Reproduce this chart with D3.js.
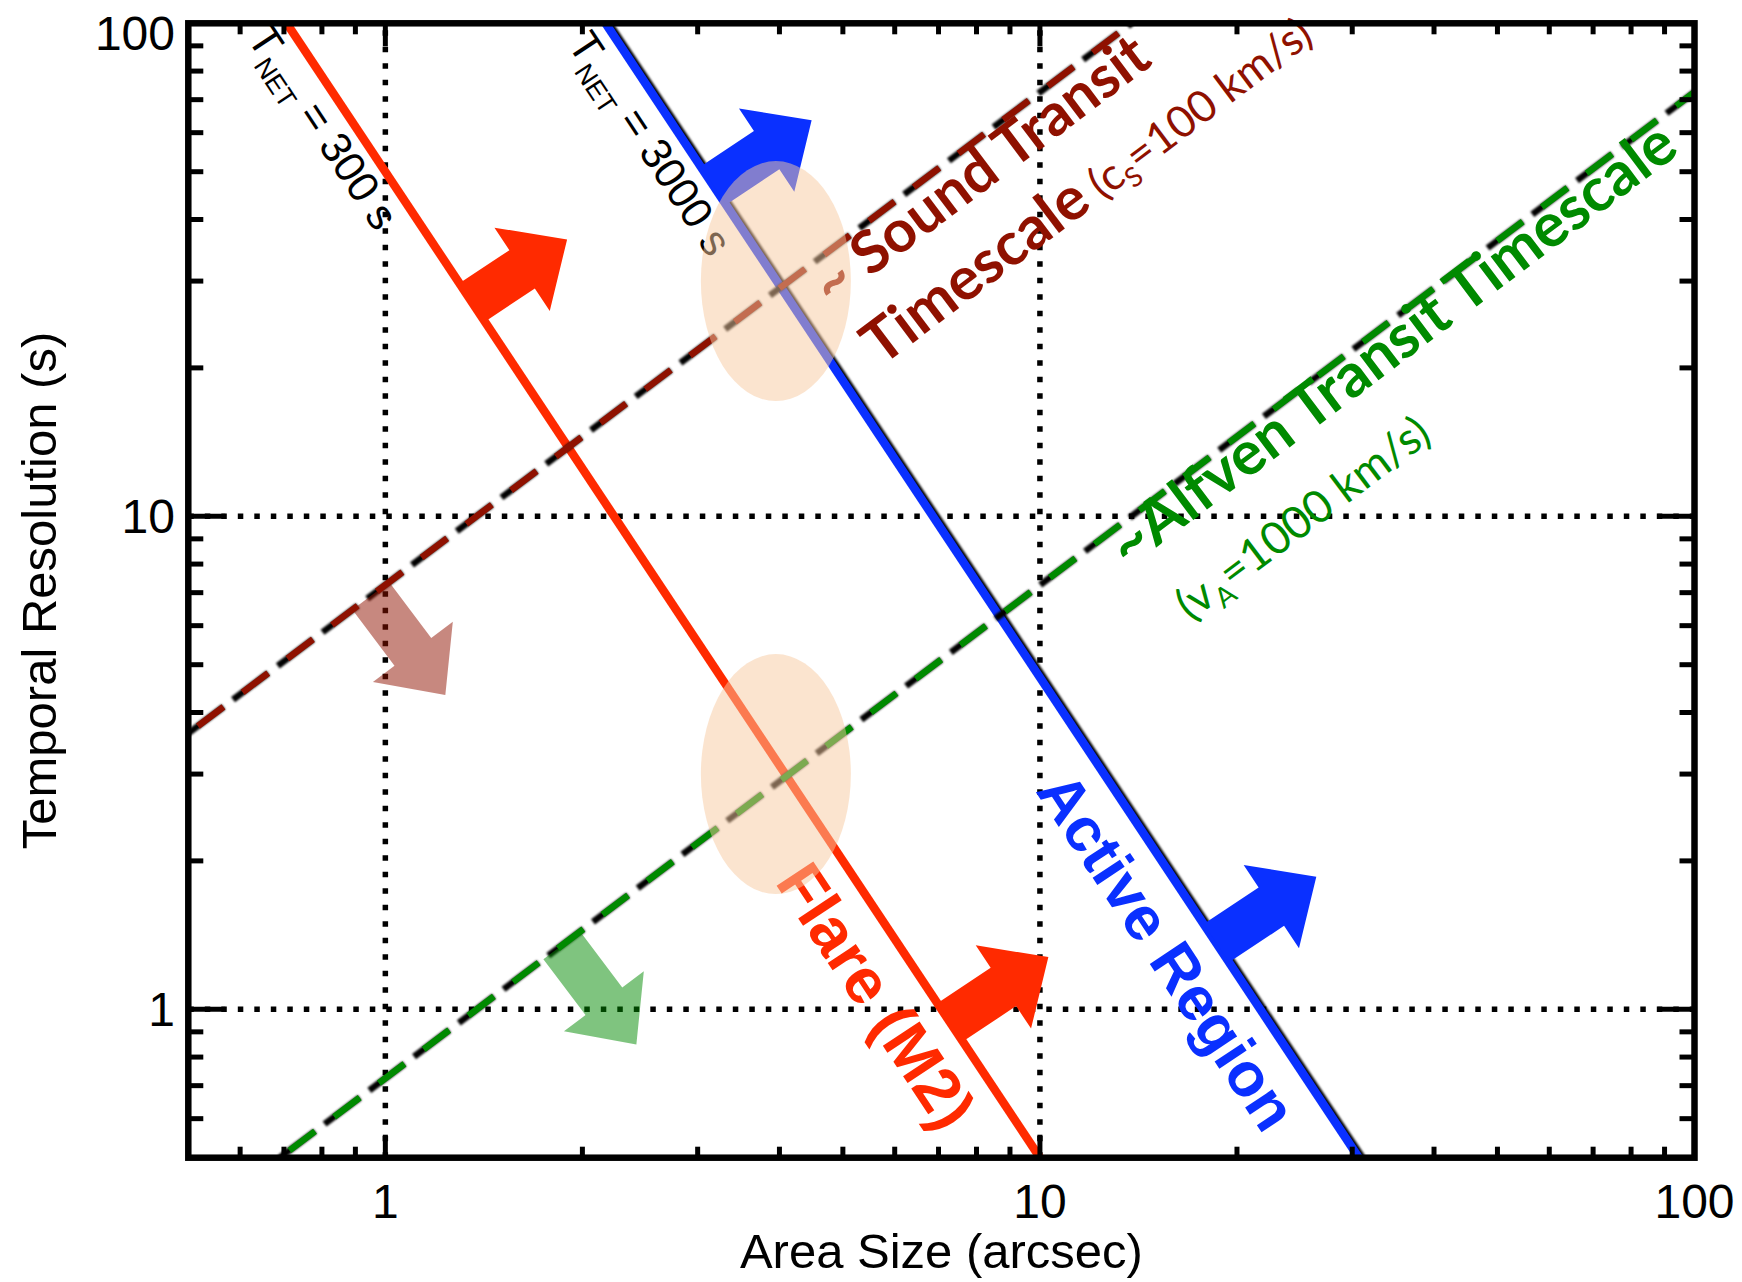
<!DOCTYPE html>
<html>
<head>
<meta charset="utf-8">
<script src="https://cdn.jsdelivr.net/npm/d3@7"></script>
<style>
  html, body { margin: 0; padding: 0; background: #fff; }
  svg { display: block; }
  text { white-space: pre; }
</style>
</head>
<body>
<svg id="chart" width="1742" height="1282"></svg>
<script>
// ---- data -------------------------------------------------------------
const areaDomain = [0.5, 100];          // arcsec
const timeDomain = [0.5, 100];          // seconds
const xTickValues = [1, 10, 100];
const xTickLabels = ["1", "10", "100"];
const yTickValues = [1, 10, 100];
const yTickLabels = ["1", "10", "100"];

// Constant total-counts lines (t ∝ A^-2), endpoints [area, time]
const flareLine = [[0.707, 100], [10, 0.5]];          // T_NET = 300 s
const activeRegionLine = [[2.17, 100], [30.7, 0.5]];  // T_NET = 3000 s
// Transit timescales (t ∝ A), endpoints [area, time]
const soundLine = [[0.5, 3.63], [13.8, 100]];         // c_s = 100 km/s
const alfvenLine = [[0.69, 0.5], [100, 72.5]];        // v_A = 1000 km/s

// Highlighted intersections [area, time]
const overlapCenters = [[3.95, 30], [3.95, 3]];

// ---- colours ----------------------------------------------------------
const RED = "#ff2a00", BLUE = "#0a30ff", DARKRED = "#8f1100", GREEN = "#008a00";

// ---- scales -----------------------------------------------------------
const plotL = 188.3, plotR = 1694.5, plotT = 23.3, plotB = 1157.7;
const x = d3.scaleLog().domain(areaDomain).range([plotL, plotR]);
const y = d3.scaleLog().domain(timeDomain).range([plotB, plotT]);

const svg = d3.select("#chart");
const defs = svg.append("defs");
defs.append("clipPath").attr("id", "plot-clip")
  .append("rect").attr("x", plotL).attr("y", plotT)
  .attr("width", plotR - plotL).attr("height", plotB - plotT);
defs.append("filter").attr("id", "soft").attr("x", "-5%").attr("y", "-5%")
  .attr("width", "110%").attr("height", "110%")
  .append("feGaussianBlur").attr("stdDeviation", 0.9);

const plot = svg.append("g").attr("clip-path", "url(#plot-clip)");

// ---- helpers ----------------------------------------------------------
const lineGen = d3.line().x(d => x(d[0])).y(d => y(d[1]));

function pointOn(line, A) {
  const [a0, t0] = line[0], [a1, t1] = line[1];
  const f = (Math.log(A) - Math.log(a0)) / (Math.log(a1) - Math.log(a0));
  const t = Math.exp(Math.log(t0) + f * (Math.log(t1) - Math.log(t0)));
  return [x(A), y(t)];
}
function screenAngle(line) {
  const p0 = [x(line[0][0]), y(line[0][1])];
  const p1 = [x(line[1][0]), y(line[1][1])];
  return Math.atan2(p1[1] - p0[1], p1[0] - p0[0]) * 180 / Math.PI;
}

// ---- dotted grid at decades -------------------------------------------
const gridG = plot.append("g")
  .attr("stroke", "#000").attr("stroke-width", 5.5)
  .attr("stroke-dasharray", "5.5 11").attr("fill", "none");
[1, 10].forEach(v => {
  gridG.append("line").attr("x1", x(v)).attr("x2", x(v))
    .attr("y1", plotB).attr("y2", plotT);
  gridG.append("line").attr("y1", y(v)).attr("y2", y(v))
    .attr("x1", plotL).attr("x2", plotR);
});

// ---- constant-count lines ---------------------------------------------
plot.append("path").datum(activeRegionLine)
  .attr("d", lineGen).attr("transform", "translate(2.6,0)")
  .attr("stroke", "#000").attr("stroke-width", 8.5).attr("fill", "none")
  .attr("filter", "url(#soft)");
plot.append("path").datum(activeRegionLine)
  .attr("d", lineGen).attr("stroke", BLUE).attr("stroke-width", 8.5).attr("fill", "none");
plot.append("path").datum(flareLine)
  .attr("d", lineGen).attr("stroke", RED).attr("stroke-width", 8.5).attr("fill", "none");

// ---- transit timescale dashed lines -----------------------------------
[[soundLine, DARKRED], [alfvenLine, GREEN]].forEach(([ln, col]) => {
  plot.append("path").datum(ln).attr("d", lineGen)
    .attr("stroke", "#000").attr("stroke-width", 6.5).attr("fill", "none")
    .attr("stroke-dasharray", "44 12").attr("filter", "url(#soft)");
  plot.append("path").datum(ln).attr("d", lineGen)
    .attr("stroke", col).attr("stroke-width", 6.5).attr("fill", "none")
    .attr("stroke-dasharray", "32 24").attr("stroke-dashoffset", 44);
});

// ---- block arrows pointing to the accessible side ---------------------
const arrows = [
  { line: flareLine, at: 1.357, side: -1, color: RED, opacity: 1, len: 114 },
  { line: flareLine, at: 7.29, side: -1, color: RED, opacity: 1, len: 118 },
  { line: activeRegionLine, at: 3.17, side: -1, color: BLUE, opacity: 1, len: 118 },
  { line: activeRegionLine, at: 18.6, side: -1, color: BLUE, opacity: 1, len: 120 },
  { line: soundLine, at: 0.95, side: 1, color: DARKRED, opacity: 0.5, len: 124 },
  { line: alfvenLine, at: 1.86, side: 1, color: GREEN, opacity: 0.5, len: 124 }
];
const shaftW = 46, headW = 100, headL = 54;
arrows.forEach(a => {
  const [px, py] = pointOn(a.line, a.at);
  const ang = screenAngle(a.line) + a.side * 90;
  const L = a.len, s = shaftW / 2, h = headW / 2;
  const pts = [[0, -s], [L - headL, -s], [L - headL, -h], [L, 0],
               [L - headL, h], [L - headL, s], [0, s]];
  plot.append("polygon")
    .attr("points", pts.map(p => p.join(",")).join(" "))
    .attr("transform", `translate(${px},${py}) rotate(${ang})`)
    .attr("fill", a.color).attr("fill-opacity", a.opacity);
});

// ---- in-plot labels (allowed to run past the frame) -------------------
const SANS = "'Liberation Sans', Arial, Helvetica, sans-serif";
const HUMAN = "Lato, 'Open Sans', sans-serif";
const labels = [
  { line: flareLine, at: 0.7071, along: -10, off: 42, font: SANS, size: 43, weight: 400, color: "#000",
    parts: [{ t: "T" }, { t: "NET", sub: true }, { t: " = 300 s" }] },
  { line: activeRegionLine, at: 2.17, along: -4, off: 44, font: SANS, size: 43, weight: 400, color: "#000",
    parts: [{ t: "T" }, { t: "NET", sub: true }, { t: " = 3000 s" }] },
  { line: flareLine, at: 4.845, along: -4, off: 69, font: SANS, size: 64, weight: 700, color: RED,
    parts: [{ t: "Flare (M2)" }] },
  { line: activeRegionLine, at: 12.53, along: -24, off: 67, font: SANS, size: 62, weight: 700, color: BLUE,
    parts: [{ t: "Active Region" }] },
  { line: soundLine, at: 4.45, along: -8, off: 46, font: HUMAN, size: 59, weight: 700, color: DARKRED,
    parts: [{ t: "~ Sound Transit" }] },
  { line: soundLine, at: 4.45, along: -4, off: 124, font: HUMAN, size: 60, weight: 700, color: DARKRED,
    parts: [{ t: "Timescale" }, { t: " (c", size: 44, weight: 400 }, { t: "S", size: 44, weight: 400, sub: true },
            { t: "=100 km/s)", size: 44, weight: 400 }] },
  { line: alfvenLine, at: 12.6, along: -2, off: 40, font: HUMAN, size: 61, weight: 700, color: GREEN,
    parts: [{ t: "~Alfven Transit Timescale" }] },
  { line: alfvenLine, at: 12.6, along: 16, off: 120, font: HUMAN, size: 45, weight: 400, color: GREEN,
    parts: [{ t: "(v" }, { t: "A", sub: true }, { t: "=1000 km/s)" }] }
];
const labelG = svg.append("g");
labels.forEach(lb => {
  const [px, py] = pointOn(lb.line, lb.at);
  const ang = screenAngle(lb.line);
  const txt = labelG.append("text")
    .attr("transform", `translate(${px},${py}) rotate(${ang})`)
    .attr("x", lb.along).attr("y", lb.off)
    .attr("font-family", lb.font).attr("fill", lb.color);
  let shift = 0;
  lb.parts.forEach(p => {
    const base = p.size || lb.size;
    const fs = p.sub ? base * 0.62 : base;
    const want = p.sub ? base * 0.22 : 0;
    txt.append("tspan")
      .attr("font-size", fs)
      .attr("font-weight", p.weight || lb.weight)
      .attr("dy", want - shift)
      .text(p.t);
    shift = want;
  });
});

// ---- overlap highlights -----------------------------------------------
svg.append("g").attr("clip-path", "url(#plot-clip)")
  .selectAll("ellipse").data(overlapCenters).join("ellipse")
  .attr("cx", d => x(d[0])).attr("cy", d => y(d[1]))
  .attr("rx", 75).attr("ry", 120)
  .attr("fill", "#f8c9a0").attr("fill-opacity", 0.5);

// ---- frame and ticks --------------------------------------------------
const axisG = svg.append("g").attr("stroke", "#000").attr("fill", "none");
const isMajor = v => Math.abs(Math.log10(v) - Math.round(Math.log10(v))) < 1e-6;
const xt = x.ticks().filter(v => v > areaDomain[0] && v < areaDomain[1]);
const yt = y.ticks().filter(v => v > timeDomain[0] && v < timeDomain[1]);
xt.forEach(v => {
  const len = isMajor(v) ? 23 : 11;
  axisG.append("line").attr("x1", x(v)).attr("x2", x(v)).attr("y1", plotB).attr("y2", plotB - len).attr("stroke-width", 5);
  axisG.append("line").attr("x1", x(v)).attr("x2", x(v)).attr("y1", plotT).attr("y2", plotT + len).attr("stroke-width", 5);
});
yt.forEach(v => {
  const len = isMajor(v) ? 37 : 15;
  axisG.append("line").attr("y1", y(v)).attr("y2", y(v)).attr("x1", plotL).attr("x2", plotL + len).attr("stroke-width", 5);
  axisG.append("line").attr("y1", y(v)).attr("y2", y(v)).attr("x1", plotR).attr("x2", plotR - len).attr("stroke-width", 5);
});
axisG.append("rect").attr("x", plotL).attr("y", plotT)
  .attr("width", plotR - plotL).attr("height", plotB - plotT)
  .attr("stroke-width", 6.5);

// tick labels
const tickFont = 48;
svg.append("g").selectAll("text").data(xTickValues).join("text")
  .attr("x", d => x(d)).attr("y", 1218)
  .attr("text-anchor", "middle").attr("font-family", SANS).attr("font-size", tickFont)
  .text((d, i) => xTickLabels[i]);
svg.append("g").selectAll("text").data(yTickValues).join("text")
  .attr("x", 175).attr("y", d => Math.max(y(d), 33) + tickFont * 0.358)
  .attr("text-anchor", "end").attr("font-family", SANS).attr("font-size", tickFont)
  .text((d, i) => yTickLabels[i]);

// axis titles
svg.append("text").attr("x", (plotL + plotR) / 2).attr("y", 1268)
  .attr("text-anchor", "middle").attr("font-family", SANS).attr("font-size", 49)
  .text("Area Size (arcsec)");
svg.append("text")
  .attr("transform", `translate(56,${(plotT + plotB) / 2}) rotate(-90)`)
  .attr("text-anchor", "middle").attr("font-family", SANS).attr("font-size", 49)
  .text("Temporal Resolution (s)");
</script>
</body>
</html>
